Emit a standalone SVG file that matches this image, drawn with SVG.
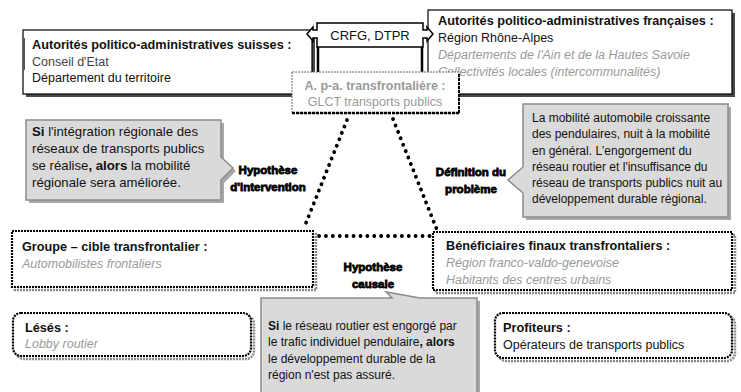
<svg xmlns="http://www.w3.org/2000/svg" width="741" height="392" viewBox="0 0 741 392">
  <style>
    text { font-family: "Liberation Sans", Arial, sans-serif; font-size: 12.5px; fill: #111; }
    .b { font-weight: bold; }
    .t { font-weight: bold; font-size: 12.7px; }
    .g { fill: #9a9a9a; }
    .gi { fill: #9a9a9a; font-style: italic; }
    .lbl { font-weight: bold; font-size: 11.5px; fill: #000; stroke: #000; stroke-width: 0.8px; text-anchor: middle; }
    .solid { fill: #fff; stroke: #000; stroke-width: 1.2; }
    .shadow { fill: #4a4a4a; }
    .dbox { fill: #fff; stroke: #000; stroke-width: 2.2; stroke-dasharray: 2 1; }
    .dshadow { fill: none; stroke: #8a8a8a; stroke-width: 2.5; stroke-dasharray: 2 1; }
    .callout { fill: #dadada; stroke: #8c8c8c; stroke-width: 1.5; }
    .cshadow { fill: #a8a8a8; }
    .dots { fill: none; stroke: #000; stroke-width: 3.8; stroke-linecap: round; stroke-dasharray: 0.1 6.8; }
  </style>

  <!-- connectors -->
  <g id="connectors">
    <path class="dots" d="M347,120 L304,228"/>
    <path class="dots" d="M393,119 L437,230"/>
    <path class="dots" d="M319,236 L430,236"/>
  </g>

  <!-- Swiss authorities -->
  <g id="swiss">
    <rect class="shadow" x="26" y="33" width="289" height="64"/>
    <rect class="solid" x="23" y="30" width="289" height="64"/>
    <line x1="24" y1="38" x2="24" y2="70" stroke="#555" stroke-width="2"/>
    <text class="t" x="32" y="49">Autorités politico-administratives suisses :</text>
    <text x="32" y="66" style="fill:#444">Conseil d'Etat</text>
    <text x="32" y="82">Département du territoire</text>
  </g>

  <!-- French authorities -->
  <g id="france">
    <rect class="shadow" x="431" y="13" width="304" height="84"/>
    <rect class="solid" x="428" y="10" width="304" height="84"/>
    <text class="t" x="438" y="25">Autorités politico-administratives françaises :</text>
    <text x="438" y="42">Région Rhône-Alpes</text>
    <text class="gi" x="438" y="59">Départements de l'Ain et de la Hautes Savoie</text>
    <text class="gi" x="438" y="76">Collectivités locales (intercommunalités)</text>
  </g>

  <!-- CRFG / DTPR double arrow -->
  <g id="crfg">
    <line x1="318" y1="47" x2="318" y2="74" stroke="#000" stroke-width="2.5"/>
    <line x1="422" y1="47" x2="422" y2="74" stroke="#000" stroke-width="2.5"/>
    <path d="M307,34 L313,27 L313,30 L317,30 L317,23 L423,23 L423,30 L427,30 L427,27 L433,34 L427,41 L427,38 L423,38 L423,47 L317,47 L317,38 L313,38 L313,41 Z" fill="#fff" stroke="#000" stroke-width="1.5"/>
    <text x="370" y="40" text-anchor="middle" style="font-size:13px">CRFG, DTPR</text>
  </g>

  <!-- cross-border authority -->
  <g id="transfrontalier">
    <rect x="292" y="72" width="167" height="41" fill="#fff" stroke="#666" stroke-width="1" stroke-dasharray="2 1"/>
    <line x1="292" y1="113" x2="459" y2="113" stroke="#000" stroke-width="2.5" stroke-dasharray="3 1"/>
    <line x1="459" y1="74" x2="459" y2="113" stroke="#000" stroke-width="2" stroke-dasharray="3 1"/>
    <text class="b g" x="375" y="90" text-anchor="middle">A. p-a. transfrontalière :</text>
    <text class="g" x="375" y="106" text-anchor="middle">GLCT transports publics</text>
  </g>

  <!-- intervention hypothesis callout -->
  <g id="hyp-intervention" style="font-size:13.2px">
    <path class="cshadow" d="M29,123 L224,123 L224,160 L236,171 L224,183 L224,203 L29,203 Z"/>
    <path class="callout" d="M26,120 L221,120 L221,157 L233,168 L221,180 L221,200 L26,200 Z"/>
    <text x="32" y="136" style="font-size:13.2px"><tspan class="b">Si</tspan> l'intégration régionale des</text>
    <text x="32" y="153" style="font-size:13.2px">réseaux de transports publics</text>
    <text x="32" y="170" style="font-size:13.2px">se réalise<tspan class="b">, alors</tspan> la mobilité</text>
    <text x="32" y="187" style="font-size:13.2px">régionale sera améliorée.</text>
    <text class="lbl" x="268" y="174">Hypothèse</text>
    <text class="lbl" x="268" y="191">d'intervention</text>
  </g>

  <!-- problem definition callout -->
  <g id="probleme">
    <path class="cshadow" d="M526,107 L731,107 L731,220 L526,220 L526,196 L511,183 L526,170 Z"/>
    <path class="callout" d="M523,104 L728,104 L728,217 L523,217 L523,193 L508,180 L523,167 Z"/>
    <text x="532" y="122" style="font-size:12px">La mobilité automobile croissante</text>
    <text x="532" y="138" style="font-size:12px">des pendulaires, nuit à la mobilité</text>
    <text x="532" y="155" style="font-size:12px">en général. L'engorgement du</text>
    <text x="532" y="171" style="font-size:12px">réseau routier et l'insuffisance du</text>
    <text x="532" y="187" style="font-size:12px">réseau de transports publics nuit au</text>
    <text x="532" y="203" style="font-size:12px">développement durable régional.</text>
    <text class="lbl" x="471" y="176">Définition du</text>
    <text class="lbl" x="471" y="193">problème</text>
  </g>

  <!-- target group -->
  <g id="groupe-cible">
    <rect class="dshadow" x="15" y="234" width="301" height="56"/>
    <rect class="dbox" x="12" y="231" width="301" height="56"/>
    <text class="t" x="22" y="251">Groupe – cible transfrontalier :</text>
    <text class="gi" x="22" y="268">Automobilistes frontaliers</text>
  </g>

  <!-- final beneficiaries -->
  <g id="beneficiaires">
    <rect class="dshadow" x="436" y="235" width="299" height="58"/>
    <rect class="dbox" x="433" y="232" width="299" height="58"/>
    <text class="t" x="446" y="250">Bénéficiaires finaux transfrontaliers :</text>
    <text class="gi" x="446" y="267">Région franco-valdo-genevoise</text>
    <text class="gi" x="446" y="284">Habitants des centres urbains</text>
  </g>

  <!-- causal hypothesis -->
  <g id="hyp-causale">
    <path class="cshadow" d="M264,301 L395,301 L389,295 L423,301 L480,301 L480,395 L264,395 Z"/>
    <path class="callout" d="M261,298 L392,298 L386,292 L420,298 L477,298 L477,395 L261,395 Z"/>
    <text x="268" y="330" style="font-size:12px"><tspan class="b">Si</tspan> le réseau routier est engorgé par</text>
    <text x="268" y="346" style="font-size:12px">le trafic individuel pendulaire<tspan class="b">, alors</tspan></text>
    <text x="268" y="363" style="font-size:12px">le développement durable de la</text>
    <text x="268" y="379" style="font-size:12px">région n'est pas assuré.</text>
    <text class="lbl" x="373" y="271">Hypothèse</text>
    <text class="lbl" x="373" y="288">causale</text>
  </g>

  <!-- losers -->
  <g id="leses">
    <rect class="dshadow" x="16" y="316" width="238" height="43" rx="8"/>
    <rect class="dbox" x="13" y="313" width="238" height="43" rx="8"/>
    <text class="t" x="25" y="332">Lésés :</text>
    <text class="gi" x="25" y="348">Lobby routier</text>
  </g>

  <!-- profiteers -->
  <g id="profiteurs">
    <rect class="dshadow" x="498" y="316" width="237" height="45" rx="8"/>
    <rect class="dbox" x="495" y="313" width="237" height="45" rx="8"/>
    <text class="t" x="503" y="332">Profiteurs :</text>
    <text x="503" y="349">Opérateurs de transports publics</text>
  </g>
</svg>
